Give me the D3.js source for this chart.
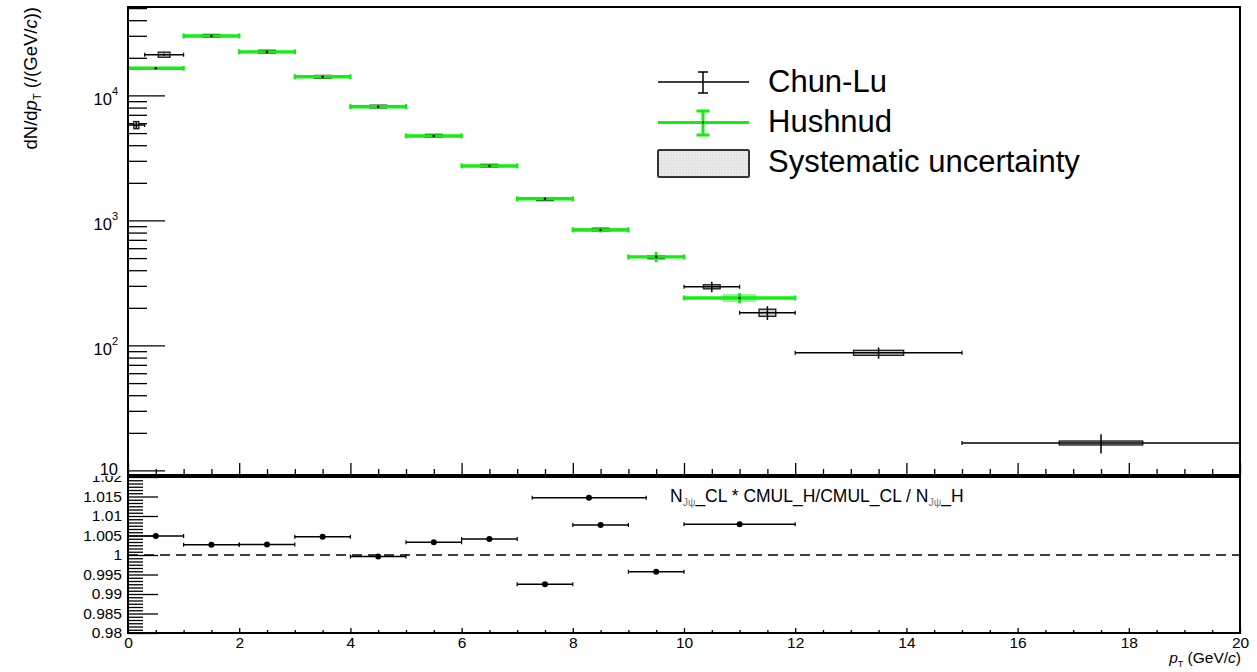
<!DOCTYPE html>
<html>
<head>
<meta charset="utf-8">
<script src="https://cdn.jsdelivr.net/npm/d3@7"></script>
<style>
  html, body { margin: 0; padding: 0; background: #fff; }
  svg { display: block; font-family: "Liberation Sans", Arial, Helvetica, sans-serif; }
</style>
</head>
<body>
<svg id="chart" width="1257" height="672"></svg>
<script>
// ---- Chun-Lu spectrum (dN/dpT), bin edges, values, stat and syst errors
const chunLo    = [0, 0.3, 1, 2, 3, 4, 5, 6, 7, 8, 9, 10, 11, 12, 15];
const chunHi    = [0.3, 1, 2, 3, 4, 5, 6, 7, 8, 9, 10, 11, 12, 15, 20];
const chunValue = [5800, 21200, 30000, 22400, 14100, 8150, 4760, 2740, 1480, 845, 508, 295, 183, 87.4, 16.6];
const chunStat  = [300, 500, 350, 260, 180, 120, 80, 55, 40, 30, 25, 28, 23, 9, 2.9];
const chunSyst  = [380, 1000, 750, 560, 350, 200, 120, 68, 37, 21, 13, 11, 12, 4, 0.6];

// ---- Hushnud spectrum
const hushLo    = [0, 1, 2, 3, 4, 5, 6, 7, 8, 9, 10];
const hushHi    = [1, 2, 3, 4, 5, 6, 7, 8, 9, 10, 12];
const hushValue = [16500, 29900, 22300, 14100, 8130, 4740, 2730, 1493, 839, 511, 240];
const hushStat  = [200, 300, 230, 160, 110, 75, 55, 40, 38, 48, 22];
const hushSyst  = [300, 500, 400, 250, 150, 90, 55, 30, 18, 12, 18];

// ---- Normalised yield ratio (lower panel)
const ratioLo    = [0, 1, 2, 3, 4, 5, 6, 7, 7.27, 8, 9, 10];
const ratioHi    = [1, 2, 3, 4, 5, 6, 7, 8, 9.32, 9, 10, 12];
const ratioX     = [0.5, 1.5, 2.5, 3.5, 4.5, 5.5, 6.5, 7.5, 8.29, 8.5, 9.5, 11];
const ratioValue = [1.0049, 1.0026, 1.0027, 1.0047, 0.9996, 1.0033, 1.0041, 0.9925, 1.0147, 1.0077, 0.9957, 1.0079];

// ---- Axis ticks
const xMajorTicks  = [0, 2, 4, 6, 8, 10, 12, 14, 16, 18, 20];
const yDecades     = [10, 100, 1000, 10000];
const ratioTicks   = [0.98, 0.985, 0.99, 0.995, 1, 1.005, 1.01, 1.015, 1.02];
const ratioLabels  = ["0.98", "0.985", "0.99", "0.995", "1", "1.005", "1.01", "1.015", "1.02"];

const GREEN = "#12ee12";
const svg = d3.select("#chart");

// scales
const x     = d3.scaleLinear().domain([0, 20]).range([128, 1240]);
const yTop  = d3.scaleLog().domain([9.2, 51000]).range([475, 7]);
const yBot  = d3.scaleLinear().domain([0.98, 1.02]).range([633, 477]);

const xMinor = d3.range(0, 20.001, 0.5).filter(v => Math.abs(v / 2 - Math.round(v / 2)) > 1e-9);

function styleAxis(g) {
  g.select(".domain").remove();
  g.selectAll(".tick line").attr("stroke", "#000").attr("stroke-width", 1.3);
  g.selectAll(".tick text").attr("fill", "#000").attr("font-family", "Liberation Sans, Arial, sans-serif");
}

// ================= lower (ratio) pad =================
const lowerPad = svg.append("g");

// y axis minor / major ticks
const ratioMinor = d3.range(0.98, 1.02001, 0.005 / 6)
  .filter(v => ratioTicks.every(t => Math.abs(t - v) > 1e-7));
lowerPad.append("g").attr("transform", "translate(128,0)")
  .call(d3.axisLeft(yBot).tickValues(ratioMinor).tickSizeInner(-15).tickSizeOuter(0).tickFormat(""))
  .call(styleAxis);
lowerPad.append("g").attr("transform", "translate(128,0)")
  .call(d3.axisLeft(yBot).tickValues(ratioTicks).tickSizeInner(-30).tickSizeOuter(0).tickPadding(6)
    .tickFormat((d, i) => ratioLabels[i]))
  .call(styleAxis)
  .call(g => g.selectAll(".tick text").attr("font-size", 15.5));

// x axis (bottom)
lowerPad.append("g").attr("transform", "translate(0,633)")
  .call(d3.axisBottom(x).tickValues(xMinor).tickSizeInner(-3).tickSizeOuter(0).tickFormat(""))
  .call(styleAxis);
lowerPad.append("g").attr("transform", "translate(0,633)")
  .call(d3.axisBottom(x).tickValues(xMajorTicks).tickSizeInner(-5).tickSizeOuter(0).tickPadding(4).tickFormat(d3.format("d")))
  .call(styleAxis)
  .call(g => g.selectAll(".tick text").attr("font-size", 15.5));

// reference line at unity
lowerPad.append("line")
  .attr("x1", x(0)).attr("x2", x(20)).attr("y1", yBot(1)).attr("y2", yBot(1))
  .attr("stroke", "#000").attr("stroke-width", 1.3).attr("stroke-dasharray", "10,6");

// ratio points
const ratioData = ratioValue.map((v, i) => ({ lo: ratioLo[i], hi: ratioHi[i], c: ratioX[i], v }));
const rp = lowerPad.append("g").selectAll("g").data(ratioData).join("g");
rp.append("line")
  .attr("x1", d => x(d.lo)).attr("x2", d => x(d.hi))
  .attr("y1", d => yBot(d.v)).attr("y2", d => yBot(d.v))
  .attr("stroke", "#000").attr("stroke-width", 1.5);
rp.append("line").attr("x1", d => x(d.lo)).attr("x2", d => x(d.lo))
  .attr("y1", d => yBot(d.v) - 2).attr("y2", d => yBot(d.v) + 2).attr("stroke", "#000").attr("stroke-width", 1.2);
rp.append("line").attr("x1", d => x(d.hi)).attr("x2", d => x(d.hi))
  .attr("y1", d => yBot(d.v) - 2).attr("y2", d => yBot(d.v) + 2).attr("stroke", "#000").attr("stroke-width", 1.2);
rp.append("circle").attr("cx", d => x(d.c)).attr("cy", d => yBot(d.v)).attr("r", 3).attr("fill", "#000");

// ratio description
const rt = lowerPad.append("text").attr("x", 670).attr("y", 502).attr("font-size", 17.5).attr("fill", "#000");
rt.append("tspan").text("N");
rt.append("tspan").attr("font-size", 10.5).attr("dy", 4).attr("fill", "#777").text("J\u03C8");
rt.append("tspan").attr("dy", -4).text("_CL * CMUL_H/CMUL_CL / N");
rt.append("tspan").attr("font-size", 10.5).attr("dy", 4).attr("fill", "#777").text("J\u03C8");
rt.append("tspan").attr("dy", -4).text("_H");

// frame
lowerPad.append("rect").attr("x", 128).attr("y", 477).attr("width", 1112).attr("height", 156)
  .attr("fill", "none").attr("stroke", "#000").attr("stroke-width", 2);

// x axis title
const xt = svg.append("text").attr("x", 1241).attr("y", 663).attr("text-anchor", "end")
  .attr("font-size", 15.5).attr("fill", "#000");
xt.append("tspan").attr("font-style", "italic").text("p");
xt.append("tspan").attr("font-size", 9).attr("dy", 4).text("T");
xt.append("tspan").attr("dy", -4).text(" (GeV/");
xt.append("tspan").attr("font-style", "italic").text("c");
xt.append("tspan").text(")");

// ================= upper (spectrum) pad =================
svg.append("rect").attr("x", 0).attr("y", 0).attr("width", 1257).attr("height", 476).attr("fill", "#fff");
const upperPad = svg.append("g");

// y axis (log)
const yMinor = [];
[1, 10, 100, 1000, 10000].forEach(dec => {
  for (let k = 2; k <= 9; k++) {
    const v = dec * k;
    if (v > 9.2 && v < 51000) yMinor.push(v);
  }
});
upperPad.append("g").attr("transform", "translate(128,0)")
  .call(d3.axisLeft(yTop).tickValues(yMinor).tickSizeInner(-19).tickSizeOuter(0).tickFormat(""))
  .call(styleAxis);
const yMaj = upperPad.append("g").attr("transform", "translate(128,0)")
  .call(d3.axisLeft(yTop).tickValues(yDecades).tickSizeInner(-37).tickSizeOuter(0).tickPadding(10).tickFormat(""))
  .call(styleAxis);
yMaj.selectAll(".tick text").each(function (d) {
  const t = d3.select(this).attr("font-size", 16.5).attr("dy", "0.55em");
  const e = Math.round(Math.log10(d));
  t.append("tspan").text("10");
  if (e > 1) t.append("tspan").attr("font-size", 11).attr("dy", "-0.9em").text(e);
});
// "10" label at the bottom sits on the frame
yMaj.selectAll(".tick").filter(d => d === 10).select("text").attr("dy", "0.25em");

// x axis ticks on the upper pad (no labels)
upperPad.append("g").attr("transform", "translate(0,475)")
  .call(d3.axisBottom(x).tickValues(xMinor).tickSizeInner(-6).tickSizeOuter(0).tickFormat(""))
  .call(styleAxis);
upperPad.append("g").attr("transform", "translate(0,475)")
  .call(d3.axisBottom(x).tickValues(xMajorTicks).tickSizeInner(-12).tickSizeOuter(0).tickFormat(""))
  .call(styleAxis);

// y axis title
const yt = upperPad.append("text").attr("transform", "translate(37,7) rotate(-90)")
  .attr("text-anchor", "end").attr("font-size", 18.5).attr("fill", "#000");
yt.append("tspan").text("dN/d");
yt.append("tspan").attr("font-style", "italic").text("p");
yt.append("tspan").attr("font-size", 11).attr("dy", 4).text("T");
yt.append("tspan").attr("dy", -4).text(" (/(GeV/");
yt.append("tspan").attr("font-style", "italic").text("c");
yt.append("tspan").text("))");

// data helpers
function mk(lo, hi, val, stat, syst) {
  return val.map((v, i) => ({ lo: lo[i], hi: hi[i], c: (lo[i] + hi[i]) / 2, w: hi[i] - lo[i], v, s: stat[i], e: syst[i] }));
}
const chun = mk(chunLo, chunHi, chunValue, chunStat, chunSyst);
const hush = mk(hushLo, hushHi, hushValue, hushStat, hushSyst);

const plot = upperPad.append("g");

// Chun-Lu: systematic boxes
plot.append("g").selectAll("rect").data(chun).join("rect")
  .attr("x", d => x(d.c - 0.15 * d.w)).attr("width", d => x(d.c + 0.15 * d.w) - x(d.c - 0.15 * d.w))
  .attr("y", d => yTop(d.v + d.e)).attr("height", d => yTop(d.v - d.e) - yTop(d.v + d.e))
  .attr("fill", "#cfcfcf").attr("stroke", "#222").attr("stroke-width", 1.4);
// Chun-Lu: error bars
const cg = plot.append("g").selectAll("g").data(chun).join("g");
cg.append("line").attr("x1", d => x(d.lo)).attr("x2", d => x(d.hi))
  .attr("y1", d => yTop(d.v)).attr("y2", d => yTop(d.v)).attr("stroke", "#000").attr("stroke-width", 1.5);
cg.append("line").attr("x1", d => x(d.lo)).attr("x2", d => x(d.lo))
  .attr("y1", d => yTop(d.v) - 2).attr("y2", d => yTop(d.v) + 2).attr("stroke", "#000").attr("stroke-width", 1.2);
cg.append("line").attr("x1", d => x(d.hi)).attr("x2", d => x(d.hi))
  .attr("y1", d => yTop(d.v) - 2).attr("y2", d => yTop(d.v) + 2).attr("stroke", "#000").attr("stroke-width", 1.2);
cg.append("line").attr("x1", d => x(d.c)).attr("x2", d => x(d.c))
  .attr("y1", d => yTop(d.v + d.s)).attr("y2", d => yTop(d.v - d.s)).attr("stroke", "#000").attr("stroke-width", 1.5);

// Hushnud: systematic boxes
plot.append("g").selectAll("rect").data(hush).join("rect")
  .attr("x", d => x(d.c - 0.15 * d.w)).attr("width", d => x(d.c + 0.15 * d.w) - x(d.c - 0.15 * d.w))
  .attr("y", d => yTop(d.v + d.e)).attr("height", d => yTop(d.v - d.e) - yTop(d.v + d.e))
  .attr("fill", "#9cf09c").attr("stroke", "none");
// Hushnud: error bars
const hg = plot.append("g").selectAll("g").data(hush).join("g");
hg.append("line").attr("x1", d => x(d.lo)).attr("x2", d => x(d.hi))
  .attr("y1", d => yTop(d.v)).attr("y2", d => yTop(d.v)).attr("stroke", GREEN).attr("stroke-width", 3.4);
hg.append("line").attr("x1", d => x(d.lo)).attr("x2", d => x(d.lo))
  .attr("y1", d => yTop(d.v) - 2.4).attr("y2", d => yTop(d.v) + 2.4).attr("stroke", GREEN).attr("stroke-width", 2.4);
hg.append("line").attr("x1", d => x(d.hi)).attr("x2", d => x(d.hi))
  .attr("y1", d => yTop(d.v) - 2.4).attr("y2", d => yTop(d.v) + 2.4).attr("stroke", GREEN).attr("stroke-width", 2.4);
hg.append("line").attr("x1", d => x(d.c)).attr("x2", d => x(d.c))
  .attr("y1", d => yTop(d.v + d.s)).attr("y2", d => yTop(d.v - d.s)).attr("stroke", GREEN).attr("stroke-width", 3);
hg.append("circle").attr("cx", d => x(d.c)).attr("cy", d => yTop(d.v)).attr("r", 1.3).attr("fill", "#000");

// frame
upperPad.append("rect").attr("x", 128).attr("y", 7).attr("width", 1112).attr("height", 468)
  .attr("fill", "none").attr("stroke", "#000").attr("stroke-width", 2);

// ================= legend =================
const leg = upperPad.append("g");
const lx1 = 658, lx2 = 749, lxc = 703;
// Chun-Lu
leg.append("line").attr("x1", lx1).attr("x2", lx2).attr("y1", 82).attr("y2", 82).attr("stroke", "#000").attr("stroke-width", 1.5);
leg.append("line").attr("x1", lxc).attr("x2", lxc).attr("y1", 72).attr("y2", 93).attr("stroke", "#000").attr("stroke-width", 1.5);
leg.append("line").attr("x1", lxc - 5).attr("x2", lxc + 5).attr("y1", 72).attr("y2", 72).attr("stroke", "#000").attr("stroke-width", 1.5);
leg.append("line").attr("x1", lxc - 5).attr("x2", lxc + 5).attr("y1", 93).attr("y2", 93).attr("stroke", "#000").attr("stroke-width", 1.5);
// Hushnud
leg.append("line").attr("x1", lx1).attr("x2", lx2).attr("y1", 122.5).attr("y2", 122.5).attr("stroke", GREEN).attr("stroke-width", 3);
leg.append("line").attr("x1", lxc).attr("x2", lxc).attr("y1", 111).attr("y2", 135).attr("stroke", GREEN).attr("stroke-width", 3);
leg.append("line").attr("x1", lxc - 6.5).attr("x2", lxc + 6.5).attr("y1", 111).attr("y2", 111).attr("stroke", GREEN).attr("stroke-width", 3);
leg.append("line").attr("x1", lxc - 6.5).attr("x2", lxc + 6.5).attr("y1", 135).attr("y2", 135).attr("stroke", GREEN).attr("stroke-width", 3);
leg.append("circle").attr("cx", lxc).attr("cy", 122.5).attr("r", 1).attr("fill", "#000");
// Systematic uncertainty
const defs = svg.append("defs");
const pat = defs.append("pattern").attr("id", "systFill").attr("patternUnits", "userSpaceOnUse")
  .attr("width", 3).attr("height", 3);
pat.append("rect").attr("width", 3).attr("height", 3).attr("fill", "#e4e4e4");
pat.append("rect").attr("width", 1).attr("height", 1).attr("fill", "#f6f6f6");
leg.append("rect").attr("x", 658).attr("y", 150).attr("width", 91).attr("height", 27).attr("rx", 1.5)
  .attr("fill", "url(#systFill)").attr("stroke", "#333").attr("stroke-width", 2);

const legText = ["Chun-Lu", "Hushnud", "Systematic uncertainty"];
const legY = [92, 132, 172];
leg.selectAll("text.lt").data(legText).join("text").attr("class", "lt")
  .attr("x", 768).attr("y", (d, i) => legY[i]).attr("font-size", 31).attr("fill", "#000").text(d => d);
</script>
</body>
</html>
